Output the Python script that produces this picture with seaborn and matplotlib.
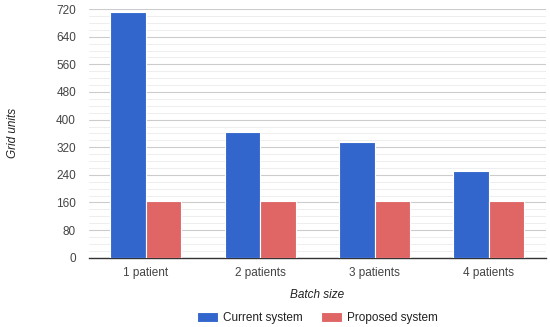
import numpy as np
import pandas as pd
import matplotlib
matplotlib.use("Agg")
import matplotlib.pyplot as plt
import seaborn as sns
from matplotlib.ticker import MultipleLocator

# === DATA
batch_sizes = ["1 patient", "2 patients", "3 patients", "4 patients"]
current_system = [713, 365, 336, 252]
proposed_system = [163, 163, 163, 163]
series_names = ["Current system", "Proposed system"]

df = pd.DataFrame({
    "Batch size": batch_sizes * 2,
    "Grid units": current_system + proposed_system,
    "System": [series_names[0]] * 4 + [series_names[1]] * 4,
})

# === STYLE
sns.set_style("white")
plt.rcParams["font.family"] = ["Liberation Sans", "DejaVu Sans"]

fig = plt.figure(figsize=(5.5, 3.27), dpi=100)
ax = fig.add_axes([0.161, 0.212, 0.832, 0.76])

sns.barplot(data=df, x="Batch size", y="Grid units", hue="System",
            palette=["#3366cc", "#e06666"], width=0.62,
            edgecolor="white", linewidth=0.8, saturation=1, ax=ax, zorder=3)

ax.set_ylim(0, 720)
ax.set_xlim(-0.5, 3.5)
ax.yaxis.set_major_locator(MultipleLocator(80))
ax.yaxis.set_minor_locator(MultipleLocator(20))
ax.grid(axis="y", which="major", color="#cccccc", linewidth=0.8, zorder=0)
ax.grid(axis="y", which="minor", color="#ebebeb", linewidth=0.6, zorder=0)
ax.set_axisbelow(True)

for s in ["top", "right", "left"]:
    ax.spines[s].set_visible(False)
ax.spines["bottom"].set_color("#333333")
ax.spines["bottom"].set_linewidth(1)

ax.tick_params(axis="both", which="both", length=0, labelsize=8.5, colors="#444444")
ax.tick_params(axis="y", pad=9)
ax.tick_params(axis="x", pad=7)

ax.set_ylabel("Grid units", fontstyle="italic", fontsize=8.5, color="#222222")
ax.yaxis.set_label_coords(-0.152, 0.5)
ax.set_xlabel("Batch size", fontstyle="italic", fontsize=8.5, color="#222222", labelpad=7)

ax.legend(loc="center", bbox_to_anchor=(0.5, -0.243), ncol=2, frameon=False,
          fontsize=8.5, handlelength=1.8, handleheight=1.0, columnspacing=1.5,
          handletextpad=0.4, labelcolor="#222222", borderaxespad=0)

fig.savefig("out.png", dpi=100)
